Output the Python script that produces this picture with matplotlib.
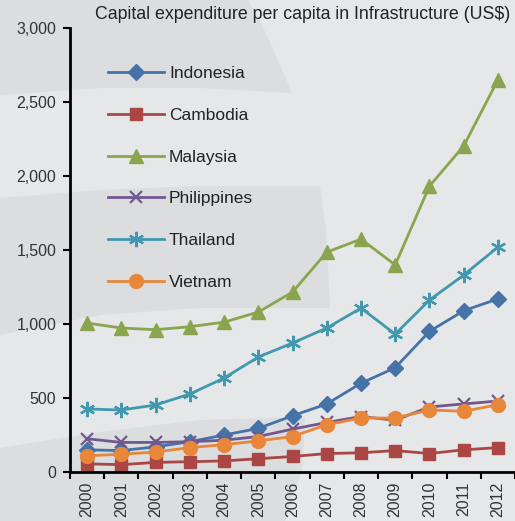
import matplotlib
matplotlib.use("Agg")
import matplotlib.pyplot as plt
from matplotlib.patches import Polygon
import numpy as np

years = [str(y) for y in range(2000, 2013)]
indonesia = [150, 145, 170, 205, 250, 295, 380, 460, 600, 705, 950, 1090, 1170]
cambodia = [55, 50, 65, 70, 75, 90, 105, 125, 130, 145, 125, 150, 165]
malaysia = [1007, 973, 962, 982, 1013, 1081, 1216, 1486, 1574, 1400, 1932, 2203, 2650]
philippines = [225, 200, 200, 205, 215, 240, 290, 335, 375, 350, 440, 460, 480]
thailand = [426, 419, 453, 527, 635, 777, 872, 973, 1108, 932, 1162, 1331, 1520]
vietnam = [110, 120, 135, 165, 185, 210, 240, 320, 365, 365, 420, 410, 455]

series = [
    ("Indonesia", indonesia, "#4572A7", "D", 8),
    ("Cambodia", cambodia, "#AA4643", "s", 9),
    ("Malaysia", malaysia, "#89A54E", "^", 10),
    ("Philippines", philippines, "#71588F", "x", 9),
    ("Thailand", thailand, "#4198AF", (6, 2, 0), 11),
    ("Vietnam", vietnam, "#E8873A", "o", 10),
]

plt.rcParams['font.family'] = ['Liberation Sans', 'DejaVu Sans']

W, H = 515, 521
bg = "#E6E7E8"
dark = "#DCDDDF"
fig = plt.figure(figsize=(W / 100, H / 100), dpi=100, facecolor=bg)

# decorative background swooshes (pixel coords -> figure fraction)
def px(pts):
    return [(a / W, 1 - b / H) for a, b in pts]

shapes = [
    [(0, 0), (248, 0), (262, 25), (278, 60), (292, 93), (200, 88), (100, 88), (0, 95)],
    [(0, 198), (100, 190), (200, 186), (320, 186), (326, 230), (330, 308), (200, 308), (100, 315), (0, 335)],
    [(0, 448), (100, 432), (200, 420), (305, 417), (302, 470), (285, 521), (0, 521)],
]
for s in shapes:
    fig.patches.append(Polygon(px(s), closed=True, transform=fig.transFigure,
                               facecolor=dark, edgecolor="none", zorder=-10))

ax = fig.add_axes([0.136, 0.094, 0.864, 0.852])
ax.set_zorder(5)
ax.set_facecolor("none")

x = np.arange(len(years))
for name, vals, col, mk, ms in series:
    mew = 1.6 if mk in ("x", (6, 2, 0)) else 1.0
    ax.plot(x, vals, color=col, lw=2, marker=mk, ms=ms, mew=mew,
            mec=col, mfc=col, label=name)

ax.set_ylim(0, 3000)
ax.set_xlim(-0.5, len(years) - 0.5)
ax.set_yticks(np.arange(0, 3001, 500))
ax.set_yticklabels([f"{v:,}" for v in range(0, 3001, 500)], fontsize=11.5, color="#333333")
ax.set_xticks(x)
ax.set_xticklabels(years, rotation=90, fontsize=11.5, color="#333333")
ax.tick_params(axis='x', which='major', length=0, pad=7)
ax.set_xticks(np.arange(-0.5, len(years), 1), minor=True)
ax.tick_params(axis='x', which='minor', length=5, width=1.5, direction='out')
ax.tick_params(axis='y', length=5, width=1.5, direction='out', pad=5)

for s in ("top", "right"):
    ax.spines[s].set_visible(False)
for s in ("left", "bottom"):
    ax.spines[s].set_linewidth(2)
    ax.spines[s].set_color("black")

leg = ax.legend(loc="upper left", bbox_to_anchor=(0.07, 0.93), frameon=False,
                fontsize=12.5, labelspacing=1.53, handlelength=3.2,
                handletextpad=0.3, borderaxespad=0)
for t in leg.get_texts():
    t.set_color("#222222")

fig.text(0.99, 0.972, "Capital expenditure per capita in Infrastructure (US$)",
         ha="right", va="center", fontsize=12.8, color="#222222")

fig.savefig("out.png", dpi=100, facecolor=bg)
